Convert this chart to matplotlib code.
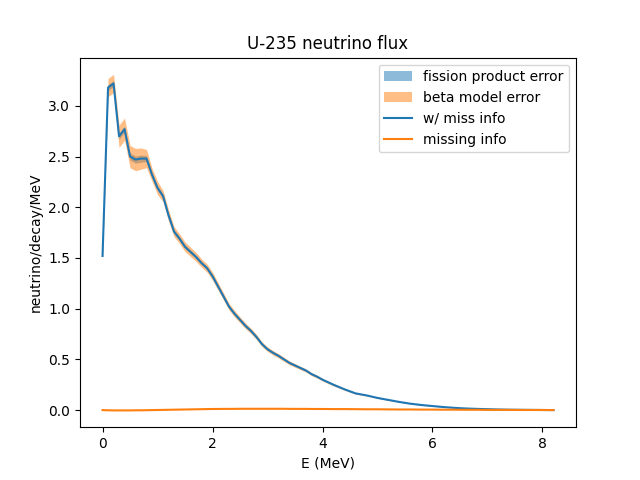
import numpy as np
import matplotlib
matplotlib.use("Agg")
import matplotlib.pyplot as plt

energy = [0.0, 0.1, 0.2, 0.3, 0.4, 0.5, 0.6, 0.7, 0.8, 0.9,
          1.0, 1.1, 1.2, 1.3, 1.4, 1.5, 1.6, 1.7, 1.8, 1.9,
          2.0, 2.1, 2.2, 2.3, 2.4, 2.5, 2.6, 2.7, 2.8, 2.9,
          3.0, 3.1, 3.2, 3.3, 3.4, 3.5, 3.6, 3.7, 3.8, 3.9,
          4.0, 4.2, 4.4, 4.6, 4.8, 5.0, 5.2, 5.4, 5.6, 5.8,
          6.0, 6.2, 6.4, 6.6, 6.8, 7.0, 7.2, 7.4, 7.6, 7.8,
          8.0, 8.2]

flux = [1.52, 3.18, 3.22, 2.70, 2.77, 2.50, 2.47, 2.48, 2.48, 2.32,
        2.19, 2.11, 1.92, 1.76, 1.69, 1.61, 1.56, 1.51, 1.45, 1.40,
        1.32, 1.22, 1.12, 1.02, 0.95, 0.89, 0.83, 0.78, 0.72, 0.65,
        0.60, 0.565, 0.535, 0.50, 0.465, 0.44, 0.415, 0.39, 0.355, 0.33,
        0.30, 0.25, 0.205, 0.165, 0.145, 0.12, 0.10, 0.08, 0.063, 0.05,
        0.04, 0.03, 0.022, 0.016, 0.012, 0.009, 0.006, 0.004, 0.003, 0.002,
        0.001, 0.0]

fp_err = [0.015, 0.03, 0.03, 0.03, 0.03, 0.035, 0.035, 0.035, 0.03, 0.025,
          0.025, 0.02, 0.02, 0.02, 0.018, 0.018, 0.016, 0.016, 0.015, 0.015,
          0.015, 0.014, 0.013, 0.012, 0.012, 0.011, 0.01, 0.01, 0.01, 0.009,
          0.008, 0.008, 0.008, 0.007, 0.007, 0.006, 0.006, 0.005, 0.005, 0.005,
          0.004, 0.004, 0.003, 0.003, 0.002, 0.002, 0.002, 0.001, 0.001, 0.001,
          0.001, 0.0, 0.0, 0.0, 0.0, 0.0, 0.0, 0.0, 0.0, 0.0,
          0.0, 0.0]

beta_err = [0.02, 0.06, 0.06, 0.08, 0.08, 0.075, 0.075, 0.07, 0.06, 0.04,
            0.04, 0.035, 0.035, 0.03, 0.03, 0.03, 0.03, 0.028, 0.026, 0.025,
            0.025, 0.023, 0.022, 0.021, 0.02, 0.019, 0.018, 0.017, 0.016, 0.015,
            0.014, 0.014, 0.013, 0.013, 0.012, 0.012, 0.011, 0.011, 0.01, 0.01,
            0.009, 0.008, 0.007, 0.005, 0.004, 0.003, 0.003, 0.002, 0.002, 0.002,
            0.001, 0.001, 0.001, 0.001, 0.0, 0.0, 0.0, 0.0, 0.0, 0.0,
            0.0, 0.0]

missing = [0.0, -0.002, -0.003, -0.003, -0.003, -0.003, -0.002, -0.002, -0.001, 0.0,
           0.001, 0.002, 0.003, 0.004, 0.005, 0.006, 0.007, 0.008, 0.009, 0.010,
           0.011, 0.011, 0.012, 0.012, 0.012, 0.013, 0.013, 0.013, 0.013, 0.013,
           0.013, 0.013, 0.013, 0.013, 0.012, 0.012, 0.012, 0.012, 0.011, 0.011,
           0.011, 0.010, 0.010, 0.009, 0.008, 0.008, 0.007, 0.006, 0.006, 0.005,
           0.005, 0.004, 0.004, 0.003, 0.003, 0.002, 0.002, 0.002, 0.001, 0.001,
           0.001, 0.0]

E = np.array(energy)
F = np.array(flux)
fp = np.array(fp_err)
be = np.array(beta_err)

fig, ax = plt.subplots(figsize=(6.4, 4.8), dpi=100)
ax.fill_between(E, F - fp, F + fp, color="C0", alpha=0.5, linewidth=0,
                label="fission product error")
ax.fill_between(E, F - fp - be, F + fp + be, color="C1", alpha=0.5, linewidth=0,
                label="beta model error")
ax.plot(E, F, color="C0", label="w/ miss info")
ax.plot(E, missing, color="C1", label="missing info")
ax.set_title("U-235 neutrino flux")
ax.set_xlabel("E (MeV)")
ax.set_ylabel("neutrino/decay/MeV")
ax.legend(loc="upper right")
fig.savefig("out.png", dpi=100)
